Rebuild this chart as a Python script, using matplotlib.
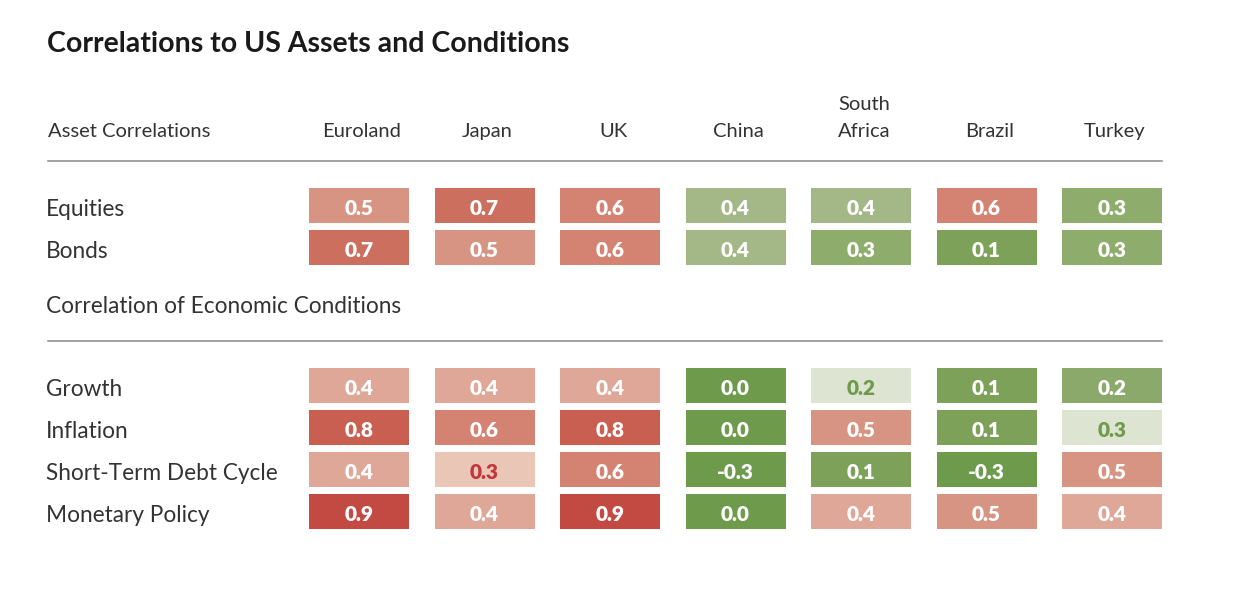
import matplotlib
matplotlib.use("Agg")
import matplotlib.pyplot as plt
from matplotlib import transforms

# data
countries = ["Euroland", "Japan", "UK", "China", "South\nAfrica", "Brazil", "Turkey"]
asset_rows = ["Equities", "Bonds"]
asset_vals = [
    [0.5, 0.7, 0.6, 0.4, 0.4, 0.6, 0.3],
    [0.7, 0.5, 0.6, 0.4, 0.3, 0.1, 0.3],
]
# r = red shade, g = green shade, p = pale green
asset_tone = [
    ["r", "r", "r", "g", "g", "r", "g"],
    ["r", "r", "r", "g", "g", "g", "g"],
]
econ_rows = ["Growth", "Inflation", "Short-Term Debt Cycle", "Monetary Policy"]
econ_vals = [
    [0.4, 0.4, 0.4, 0.0, 0.2, 0.1, 0.2],
    [0.8, 0.6, 0.8, 0.0, 0.5, 0.1, 0.3],
    [0.4, 0.3, 0.6, -0.3, 0.1, -0.3, 0.5],
    [0.9, 0.4, 0.9, 0.0, 0.4, 0.5, 0.4],
]
econ_tone = [
    ["r", "r", "r", "g", "p", "g", "g"],
    ["r", "r", "r", "g", "r", "g", "p"],
    ["r", "r", "r", "g", "g", "g", "r"],
    ["r", "r", "r", "g", "r", "r", "r"],
]

reds = {0.3: "#EAC6B6", 0.4: "#DFA797", 0.5: "#D79482", 0.6: "#D48272",
        0.7: "#CD6F5F", 0.8: "#C85F51", 0.9: "#C34A42"}
greens = {0.4: "#A3B886", 0.3: "#8EAD6C", 0.2: "#8AA96A", 0.1: "#7DA158",
          0.0: "#6E9A4C", -0.3: "#6E9A4C"}
pale_green = "#DDE4D1"

W, H = 1234, 602
fig = plt.figure(figsize=(W / 100, H / 100), dpi=100)
fig.patch.set_facecolor("white")

# background axes in pixel units for text and rules
bg = fig.add_axes([0, 0, 1, 1])
bg.set_xlim(0, W)
bg.set_ylim(H, 0)
bg.axis("off")

LIGHT = dict(family="Lato", weight="normal", color="#333333")

bg.text(47, 52, "Correlations to US Assets and Conditions", family="Lato",
        weight="bold", fontsize=20.5, color="#1a1a1a", va="baseline", ha="left")

bg.text(48, 137, "Asset Correlations", fontsize=14.5, va="baseline", ha="left", **LIGHT)
bg.plot([48, 1162], [160.5, 160.5], color="#8a8a8a", lw=1.1)
bg.text(46, 313, "Correlation of Economic Conditions", fontsize=16.3, va="baseline",
        ha="left", **LIGHT)
bg.plot([48, 1162], [341, 341], color="#8a8a8a", lw=1.1)

col0, colstep = 359, 125.5
rowstep = 42


def section(vals, tone, labels, top):
    n = len(vals)
    ax = fig.add_axes([(col0 - colstep / 2) / W,
                       1 - (top + n * rowstep) / H,
                       7 * colstep / W,
                       n * rowstep / H])
    ax.set_xlim(-0.5, 6.5)
    ax.set_ylim(n - 0.5, -0.5)
    ax.axis("off")
    for r in range(n):
        cols, txtc = [], []
        for c in range(7):
            v, t = vals[r][c], tone[r][c]
            if t == "r":
                cols.append(reds[v])
                txtc.append("#C0363A" if v <= 0.3 else "white")
            elif t == "p":
                cols.append(pale_green)
                txtc.append("#6E9A4C")
            else:
                cols.append(greens[v])
                txtc.append("white")
        ax.bar(range(7), [35 / rowstep] * 7, width=100 / colstep,
               bottom=r - 35 / rowstep / 2, color=cols, linewidth=0)
        for c in range(7):
            ax.text(c, r + 9.5 / rowstep, f"{vals[r][c]:.1f}", ha="center",
                    va="baseline", family="Lato", weight="heavy", fontsize=15,
                    color=txtc[c])
    tr = transforms.blended_transform_factory(fig.transFigure, ax.transData)
    for r, lab in enumerate(labels):
        ax.text(46 / W, r + 10.5 / rowstep, lab, transform=tr, ha="left",
                va="baseline", fontsize=16.3, **LIGHT)
    return ax


ax1 = section(asset_vals, asset_tone, asset_rows, 184.5)
ax2 = section(econ_vals, econ_tone, econ_rows, 364.5)

for i, name in enumerate(countries):
    x = col0 + 3 + i * colstep
    bg.text(x, 137, name, ha="center", va="baseline", fontsize=14.5,
            linespacing=1.75, **LIGHT)

fig.savefig("out.png", dpi=100)
